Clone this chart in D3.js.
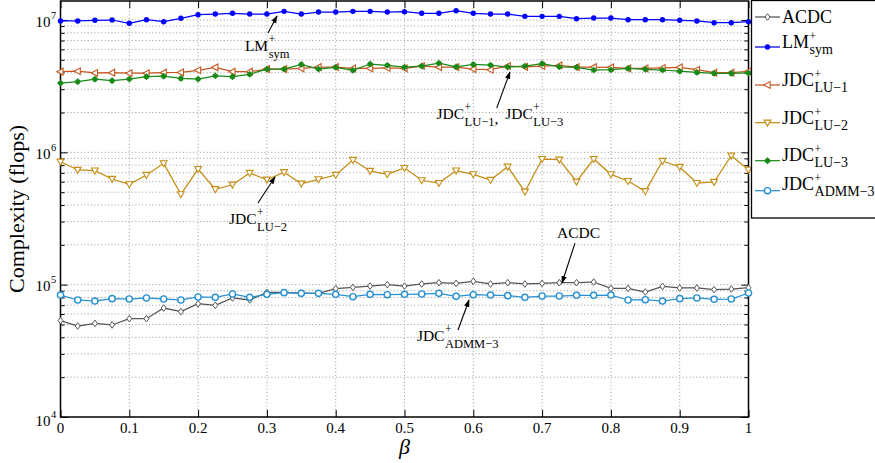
<!DOCTYPE html>
<html><head><meta charset="utf-8">
<script src="https://cdn.jsdelivr.net/npm/d3@7"></script>
<style>
body{margin:0;background:#fff}
svg{display:block}
text{font-family:"Liberation Serif","Times New Roman",serif;fill:#000}
</style>
</head><body>
<svg id="chart" width="875" height="463"></svg>
<script>
// ---------------- data ----------------
const beta = [0,0.025,0.05,0.075,0.1,0.125,0.15,0.175,0.2,0.225,0.25,0.275,0.3,0.325,0.35,0.375,0.4,0.425,0.45,0.475,0.5,
              0.525,0.55,0.575,0.6,0.625,0.65,0.675,0.7,0.725,0.75,0.775,0.8,0.825,0.85,0.875,0.9,0.925,0.95,0.975,1];
const acdc = [5.35e4,4.87e4,5.10e4,4.96e4,5.53e4,5.53e4,6.66e4,6.25e4,7.18e4,6.98e4,7.93e4,7.66e4,8.75e4,8.75e4,8.65e4,8.60e4,
              9.33e4,9.55e4,9.77e4,1.0e5,9.77e4,1.012e5,1.035e5,1.023e5,1.06e5,1.012e5,1.035e5,1.012e5,1.023e5,1.035e5,1.035e5,
              1.047e5,9.38e4,9.38e4,8.80e4,9.71e4,9.44e4,9.44e4,9.17e4,9.27e4,9.49e4];
const lmSym = [0.983e7,0.983e7,0.995e7,1.0e7,0.944e7,1.005e7,0.971e7,1.03e7,1.097e7,1.11e7,1.124e7,1.11e7,1.11e7,1.163e7,1.11e7,
               1.149e7,1.149e7,1.163e7,1.163e7,1.149e7,1.155e7,1.124e7,1.124e7,1.176e7,1.124e7,1.11e7,1.11e7,1.066e7,1.066e7,
               1.066e7,1.023e7,1.035e7,1.035e7,1.005e7,1.005e7,1.005e7,0.995e7,0.983e7,0.954e7,0.954e7,0.971e7];
const jdcLU1 = [4.07e6,4.10e6,3.98e6,4.0e6,3.96e6,3.96e6,4.0e6,4.02e6,4.17e6,4.39e6,4.07e6,4.07e6,4.26e6,4.26e6,4.31e6,4.41e6,
                4.41e6,4.31e6,4.31e6,4.34e6,4.31e6,4.49e6,4.41e6,4.41e6,4.26e6,4.21e6,4.49e6,4.43e6,4.49e6,4.54e6,4.41e6,4.41e6,
                4.39e6,4.31e6,4.31e6,4.34e6,4.39e6,4.21e6,4.0e6,4.0e6,4.10e6];
const jdcLU2 = [8.49e5,7.36e5,7.27e5,6.29e5,5.73e5,6.74e5,8.26e5,4.82e5,7.48e5,5.26e5,5.69e5,6.98e5,6.21e5,7.07e5,5.79e5,6.25e5,
                6.74e5,8.75e5,7.23e5,6.82e5,7.61e5,6.15e5,5.86e5,7.27e5,6.82e5,6.18e5,7.79e5,5.04e5,8.90e5,8.80e5,6.00e5,8.90e5,
                6.82e5,6.07e5,5.08e5,8.60e5,7.75e5,5.86e5,5.97e5,9.43e5,7.39e5];
const jdcLU3 = [3.34e6,3.42e6,3.57e6,3.48e6,3.58e6,3.73e6,3.76e6,3.62e6,3.58e6,3.79e6,3.73e6,3.89e6,4.26e6,4.26e6,4.62e6,4.26e6,
                4.39e6,4.17e6,4.65e6,4.55e6,4.41e6,4.49e6,4.73e6,4.43e6,4.62e6,4.57e6,4.41e6,4.49e6,4.68e6,4.43e6,4.39e6,4.19e6,
                4.21e6,4.31e6,4.24e6,4.19e6,4.10e6,4.02e6,3.95e6,3.95e6,3.98e6];
const jdcADMM3 = [8.35e4,7.66e4,7.52e4,7.84e4,7.79e4,7.93e4,7.79e4,7.66e4,8.07e4,8.02e4,8.50e4,8.02e4,8.45e4,8.70e4,8.60e4,8.60e4,
                  8.45e4,8.11e4,8.45e4,8.40e4,8.45e4,8.50e4,8.60e4,8.16e4,8.40e4,8.35e4,8.26e4,8.02e4,8.21e4,8.21e4,8.31e4,8.31e4,
                  8.35e4,7.66e4,7.70e4,7.52e4,7.84e4,7.93e4,7.75e4,7.79e4,8.65e4];
const xTickValues = [0,0.1,0.2,0.3,0.4,0.5,0.6,0.7,0.8,0.9,1];
const xTickLabels = ["0","0.1","0.2","0.3","0.4","0.5","0.6","0.7","0.8","0.9","1"];
const yMajorExp = [4,5,6,7];
const yMinorMult = [2,3,4,5,6,7,8,9];

const series = [
  {main:"ACDC", sup:"", sub:"", values:acdc, color:"#555555", marker:"diamond"},
  {main:"LM", sup:"+", sub:"sym", values:lmSym, color:"#0000ff", marker:"dot"},
  {main:"JDC", sup:"+", sub:"LU\u22121", values:jdcLU1, color:"#c4561e", marker:"triLeft"},
  {main:"JDC", sup:"+", sub:"LU\u22122", values:jdcLU2, color:"#c48c14", marker:"triDown"},
  {main:"JDC", sup:"+", sub:"LU\u22123", values:jdcLU3, color:"#188a18", marker:"star"},
  {main:"JDC", sup:"+", sub:"ADMM\u22123", values:jdcADMM3, color:"#2690d2", marker:"circle"}
];

// annotations: text anchor (beta,value), arrow tail and head (beta,value)
const annotations = [
  {parts:[{main:"LM",sup:"+",sub:"sym"}], at:[0.268,5.83e6], from:[0.3016,7.98e6], to:[0.3147,1.072e7]},
  {parts:[{main:"JDC",sup:"+",sub:"LU\u22121",after:", "},{main:"JDC",sup:"+",sub:"LU\u22123"}], at:[0.5465,1.786e6], from:[0.634,2.16e6], to:[0.6533,4.05e6]},
  {parts:[{main:"JDC",sup:"+",sub:"LU\u22122"}], at:[0.2449,2.87e5], from:[0.287,4.14e5], to:[0.3118,6.51e5]},
  {parts:[{main:"ACDC",sup:"",sub:""}], at:[0.7217,2.25e5], from:[0.7478,2.06e5], to:[0.7289,1.03e5]},
  {parts:[{main:"JDC",sup:"+",sub:"ADMM\u22123"}], at:[0.518,3.75e4], from:[0.5778,4.54e4], to:[0.5938,7.66e4]}
];

// ---------------- layout ----------------
const svg = d3.select("#chart");
const L = 60.5, R = 748.5, T = 1, B = 417;
const x = d3.scaleLinear().domain([0,1]).range([L,R]);
const y = d3.scaleLog().domain([1e4,1.392e7]).range([B,T]);

const majorVals = yMajorExp.map(e => Math.pow(10,e));
const minorVals = [];
yMajorExp.forEach(e => yMinorMult.forEach(m => { const v = m*Math.pow(10,e); if (v <= y.domain()[1]) minorVals.push(v); }));

// grid
const grid = svg.append("g").attr("stroke","#8f8f8f").attr("stroke-width",0.9).attr("stroke-dasharray","1,2.4");
grid.selectAll("line.gx").data(xTickValues.slice(1,-1)).join("line")
  .attr("x1",d=>x(d)).attr("x2",d=>x(d)).attr("y1",T).attr("y2",B);
grid.selectAll("line.gy").data(majorVals.slice(1).concat(minorVals)).join("line")
  .attr("x1",L).attr("x2",R).attr("y1",d=>y(d)).attr("y2",d=>y(d));

// axes ticks (inward)
function tickAxis(axisFn, scale, vals, size, transform){
  const g = svg.append("g").attr("transform",transform)
    .call(axisFn(scale).tickValues(vals).tickSize(size).tickFormat(""));
  g.select(".domain").remove();
  g.selectAll("line").attr("stroke","#000").attr("stroke-width",1);
}
tickAxis(d3.axisLeft, y, majorVals, -7, `translate(${L},0)`);
tickAxis(d3.axisLeft, y, minorVals, -4, `translate(${L},0)`);
tickAxis(d3.axisRight, y, majorVals, -7, `translate(${R},0)`);
tickAxis(d3.axisRight, y, minorVals, -4, `translate(${R},0)`);
tickAxis(d3.axisBottom, x, xTickValues, -7, `translate(0,${B})`);
tickAxis(d3.axisTop, x, xTickValues, -7, `translate(0,${T})`);

// frame
svg.append("rect").attr("x",L).attr("y",T).attr("width",R-L).attr("height",B-T)
  .attr("fill","none").attr("stroke","#000").attr("stroke-width",1.5);

// tick labels
svg.append("g").selectAll("text").data(xTickValues).join("text")
  .attr("x",d=>x(d)).attr("y",B+16).attr("text-anchor","middle").attr("font-size",15)
  .text((d,i)=>xTickLabels[i]);
const yl = svg.append("g");
yMajorExp.forEach(e => {
  const v = Math.pow(10,e), py = y(v) + (e===4 ? 9 : 6.5);
  yl.append("text").attr("x",L-10).attr("y",py).attr("text-anchor","end").attr("font-size",15).text("10");
  yl.append("text").attr("x",L-9.5).attr("y",py-8).attr("text-anchor","start").attr("font-size",10.5).text(String(e));
});

// axis titles
svg.append("text").attr("transform",`translate(24,${(T+B)/2}) rotate(-90)`)
  .attr("text-anchor","middle").attr("font-size",22).text("Complexity (flops)");
svg.append("text").attr("x",x(0.5)).attr("y",454).attr("text-anchor","middle")
  .attr("font-size",22).attr("font-style","italic").text("\u03B2");

// markers
function marker(g, type, color){
  if (type==="diamond") g.append("path").attr("d","M0,-3.3L2.5,0L0,3.3L-2.5,0Z").attr("fill","#fff").attr("stroke",color).attr("stroke-width",1);
  else if (type==="dot") g.append("circle").attr("r",2.7).attr("fill",color);
  else if (type==="triLeft") g.append("path").attr("d","M-3.6,0L2.6,-3.4L2.6,3.4Z").attr("fill","#fff").attr("stroke",color).attr("stroke-width",1.1);
  else if (type==="triDown") g.append("path").attr("d","M-3.4,-2.6L3.4,-2.6L0,3.4Z").attr("fill","#fff").attr("stroke",color).attr("stroke-width",1.1);
  else if (type==="star") { g.append("circle").attr("r",2.6).attr("fill",color);
    g.append("path").attr("d","M-3.3,0H3.3M0,-3.3V3.3").attr("stroke",color).attr("stroke-width",1); }
  else if (type==="circle") g.append("circle").attr("r",3.1).attr("fill","#fff").attr("stroke",color).attr("stroke-width",1.4);
}

const line = d3.line().x(d=>x(d[0])).y(d=>y(d[1]));
series.forEach(s => {
  const pts = beta.map((b,i)=>[b,s.values[i]]);
  const g = svg.append("g");
  g.append("path").datum(pts).attr("d",line).attr("fill","none").attr("stroke",s.color).attr("stroke-width",1.25);
  g.selectAll("g.m").data(pts).join("g").attr("transform",d=>`translate(${x(d[0])},${y(d[1])})`)
    .each(function(){ marker(d3.select(this), s.marker, s.color); });
});

// rich label helper: main + superscript + subscript
function rich(g, px, py, p, fs, supFs, subFs, supOff, subOff){
  const t = g.append("text").attr("x",px).attr("y",py).attr("font-size",fs).text(p.main);
  const w = t.node().getComputedTextLength();
  let end = px + w;
  if (p.sup){
    const s = g.append("text").attr("x",px+w+0.5).attr("y",py-fs*supOff).attr("font-size",supFs).text(p.sup);
    end = Math.max(end, px+w+0.5+s.node().getComputedTextLength());
  }
  if (p.sub){
    const s = g.append("text").attr("x",px+w+0.5).attr("y",py+fs*subOff).attr("font-size",subFs).text(p.sub);
    end = Math.max(end, px+w+0.5+s.node().getComputedTextLength());
  }
  if (p.after){
    const a = g.append("text").attr("x",end).attr("y",py+fs*0.3).attr("font-size",fs).attr("xml:space","preserve").text(p.after);
    end += a.node().getComputedTextLength() + 3;
  }
  return end;
}

// annotations
svg.append("defs").append("marker").attr("id","ah").attr("viewBox","0 0 10 10").attr("refX",9).attr("refY",5)
  .attr("markerWidth",7).attr("markerHeight",7).attr("orient","auto")
  .append("path").attr("d","M0,1.5L10,5L0,8.5Z").attr("fill","#000");
const ann = svg.append("g");
annotations.forEach(a => {
  ann.append("line").attr("x1",x(a.from[0])).attr("y1",y(a.from[1])).attr("x2",x(a.to[0])).attr("y2",y(a.to[1]))
    .attr("stroke","#000").attr("stroke-width",1.1).attr("marker-end","url(#ah)");
  let px = x(a.at[0]);
  a.parts.forEach(p => { px = rich(ann, px, y(a.at[1]), p, 15.5, 11.5, 12.5, 0.5, 0.42); });
});

// legend
const lg = svg.append("g");
lg.append("rect").attr("x",751.5).attr("y",0.5).attr("width",130).attr("height",217.5)
  .attr("fill","#fff").attr("stroke","#000").attr("stroke-width",1.3);
const legY = [17, 47, 85, 122.7, 160.7, 190.7];
const legBase = [23, 48, 86, 124, 161, 190];
series.forEach((s,i) => {
  lg.append("line").attr("x1",755).attr("x2",780).attr("y1",legY[i]).attr("y2",legY[i]).attr("stroke",s.color).attr("stroke-width",1.25);
  marker(lg.append("g").attr("transform",`translate(767.5,${legY[i]})`), s.marker, s.color);
  rich(lg, 782, legBase[i], s, 18, 11.5, 14, 0.42, 0.36);
});
</script>
</body></html>
